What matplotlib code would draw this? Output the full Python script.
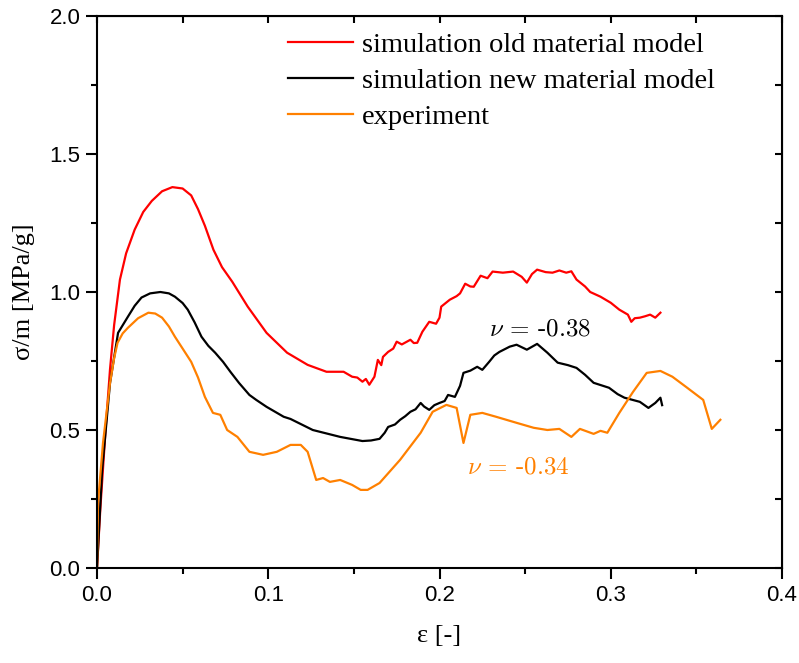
import numpy as np
import matplotlib.pyplot as plt
from matplotlib.ticker import MultipleLocator

# strain / specific stress
old_x = [0.0, 0.002, 0.005, 0.0076, 0.010, 0.0134, 0.017, 0.022, 0.027, 0.032, 0.038,
         0.044, 0.050, 0.055, 0.059, 0.063, 0.068, 0.073, 0.079, 0.088, 0.099,
         0.111, 0.123, 0.134, 0.144, 0.149, 0.152, 0.155, 0.157, 0.159, 0.162,
         0.164, 0.166, 0.167, 0.170, 0.173, 0.175, 0.178, 0.183, 0.185, 0.187, 0.190,
         0.194, 0.198, 0.200, 0.201, 0.206, 0.210, 0.212, 0.215, 0.218, 0.220, 0.224,
         0.228, 0.231, 0.237, 0.243, 0.248, 0.251, 0.254, 0.257, 0.262, 0.266, 0.270,
         0.274, 0.277, 0.280, 0.285, 0.288, 0.294, 0.300, 0.305, 0.310, 0.312, 0.314,
         0.317, 0.320, 0.323, 0.326, 0.329]
old_y = [0.0, 0.22, 0.50, 0.72, 0.88, 1.045, 1.14, 1.226, 1.29, 1.33, 1.365,
         1.38, 1.375, 1.35, 1.30, 1.24, 1.153, 1.09, 1.037, 0.947, 0.852,
         0.78, 0.736, 0.711, 0.711, 0.693, 0.690, 0.675, 0.685, 0.664, 0.693,
         0.754, 0.735, 0.765, 0.783, 0.795, 0.82, 0.81, 0.827, 0.815, 0.816, 0.856,
         0.892, 0.885, 0.907, 0.947, 0.972, 0.985, 0.995, 1.03, 1.02, 1.019, 1.059,
         1.05, 1.074, 1.07, 1.074, 1.055, 1.034, 1.065, 1.081, 1.072, 1.07, 1.078,
         1.07, 1.075, 1.045, 1.02, 1.0, 0.983, 0.961, 0.936, 0.918, 0.892, 0.905,
         0.907, 0.912, 0.918, 0.907, 0.925]

new_x = [0.0, 0.003, 0.0076, 0.0123, 0.018, 0.022, 0.026, 0.031, 0.037, 0.042, 0.0455,
         0.050, 0.053, 0.057, 0.061, 0.065, 0.069, 0.0736, 0.078, 0.083, 0.089, 0.093,
         0.099, 0.109, 0.113, 0.126, 0.142, 0.155, 0.160, 0.165, 0.168, 0.170, 0.174,
         0.177, 0.180, 0.183, 0.186, 0.189, 0.191, 0.194, 0.197, 0.200, 0.203, 0.205,
         0.209, 0.212, 0.214, 0.218, 0.222, 0.225, 0.229, 0.232, 0.235, 0.241, 0.245,
         0.251, 0.257, 0.263, 0.269, 0.275, 0.280, 0.285, 0.290, 0.299, 0.304, 0.308,
         0.317, 0.322, 0.326, 0.329, 0.330]
new_y = [0.0, 0.355, 0.67, 0.852, 0.91, 0.95, 0.98, 0.995, 1.0, 0.995, 0.983,
         0.96, 0.936, 0.89, 0.838, 0.805, 0.78, 0.747, 0.71, 0.67, 0.627, 0.609,
         0.584, 0.548, 0.54, 0.5, 0.475, 0.46, 0.462, 0.468, 0.49, 0.511, 0.52,
         0.537, 0.55, 0.566, 0.575, 0.598, 0.585, 0.573, 0.59, 0.598, 0.605, 0.627,
         0.62, 0.66, 0.707, 0.715, 0.729, 0.718, 0.747, 0.77, 0.783, 0.802, 0.809,
         0.791, 0.812, 0.78, 0.744, 0.735, 0.725, 0.70, 0.671, 0.653, 0.63, 0.617,
         0.602, 0.58, 0.598, 0.617, 0.59]

exp_x = [0.0, 0.0006, 0.0035, 0.0076, 0.010, 0.012, 0.015, 0.018, 0.024, 0.030, 0.034,
         0.038, 0.042, 0.0455, 0.050, 0.055, 0.059, 0.063, 0.0677, 0.072, 0.076, 0.082,
         0.089, 0.097, 0.105, 0.113, 0.119, 0.123, 0.128, 0.132, 0.136, 0.142, 0.149,
         0.154, 0.158, 0.165, 0.177, 0.189, 0.196, 0.204, 0.210, 0.214, 0.218, 0.225,
         0.233, 0.245, 0.255, 0.263, 0.270, 0.277, 0.282, 0.290, 0.294, 0.298, 0.305,
         0.313, 0.321, 0.329, 0.336, 0.344, 0.354, 0.359, 0.364]
exp_y = [0.0, 0.236, 0.453, 0.67, 0.76, 0.816, 0.85, 0.87, 0.905, 0.925, 0.922,
         0.907, 0.875, 0.838, 0.795, 0.747, 0.69, 0.62, 0.562, 0.555, 0.5, 0.475,
         0.421, 0.41, 0.421, 0.446, 0.446, 0.421, 0.319, 0.326, 0.312, 0.319, 0.301,
         0.283, 0.283, 0.308, 0.392, 0.49, 0.566, 0.591, 0.58, 0.453, 0.555, 0.562,
         0.548, 0.526, 0.508, 0.5, 0.504, 0.475, 0.504, 0.486, 0.497, 0.49, 0.562,
         0.638, 0.707, 0.714, 0.693, 0.656, 0.609, 0.504, 0.537]

RED = '#ff0000'
BLACK = '#000000'
ORANGE = '#ff8000'

plt.rcParams['mathtext.fontset'] = 'cm'

fig = plt.figure(figsize=(7.99, 6.63), dpi=100)
ax = fig.add_axes([97 / 799, 95 / 663, 685 / 799, 552 / 663])

ax.plot(old_x, old_y, color=RED, lw=1.6, label='simulation old material model')
ax.plot(new_x, new_y, color=BLACK, lw=1.6, label='simulation new material model')
ax.plot(exp_x, exp_y, color=ORANGE, lw=1.6, label='experiment')

ax.set_xlim(0, 0.4)
ax.set_ylim(0, 2.0)
ax.xaxis.set_major_locator(MultipleLocator(0.1))
ax.xaxis.set_minor_locator(MultipleLocator(0.05))
ax.yaxis.set_major_locator(MultipleLocator(0.5))
ax.yaxis.set_minor_locator(MultipleLocator(0.25))
ax.xaxis.set_major_formatter(plt.FuncFormatter(lambda v, p: f'{v:.1f}'))
ax.yaxis.set_major_formatter(plt.FuncFormatter(lambda v, p: f'{v:.1f}'))

for s in ax.spines.values():
    s.set_linewidth(1.5)

ax.tick_params(which='major', direction='out', length=8, width=1.5,
               labelsize=16, pad=4)
ax.tick_params(which='minor', direction='out', length=4.5, width=1.5)
for lab in ax.get_xticklabels() + ax.get_yticklabels():
    lab.set_family(['Liberation Sans', 'DejaVu Sans'])

# mirrored inward ticks on top and right
axt = ax.secondary_xaxis('top')
axt.xaxis.set_major_locator(MultipleLocator(0.1))
axt.xaxis.set_minor_locator(MultipleLocator(0.05))
axt.tick_params(which='both', direction='in', length=5, width=1.5, labeltop=False)
axr = ax.secondary_yaxis('right')
axr.yaxis.set_major_locator(MultipleLocator(0.5))
axr.yaxis.set_minor_locator(MultipleLocator(0.25))
axr.tick_params(which='both', direction='in', length=5, width=1.5, labelright=False)

serif = ['Liberation Serif', 'DejaVu Serif']
ax.set_xlabel('ε [-]', family=serif, fontsize=19, labelpad=14)
ax.set_ylabel('σ/m [MPa/g]', family=serif, fontsize=19, labelpad=10)

ax.text(0.229, 0.863, r'$\nu$ = -0.38', color=BLACK, fontsize=18,
        family='cmr10', va='center', ha='left')
ax.text(0.216, 0.366, r'$\nu$ = -0.34', color=ORANGE, fontsize=18,
        family='cmr10', va='center', ha='left')

leg = ax.legend(loc='upper left', bbox_to_anchor=(288 / 799, 1 - 32 / 663),
                bbox_transform=fig.transFigure, frameon=False,
                prop={'family': serif, 'size': 20.5}, handlelength=2.3,
                handletextpad=0.3, labelspacing=0.36, borderpad=0,
                borderaxespad=0)

fig.savefig('out.png', dpi=100, facecolor='white')
